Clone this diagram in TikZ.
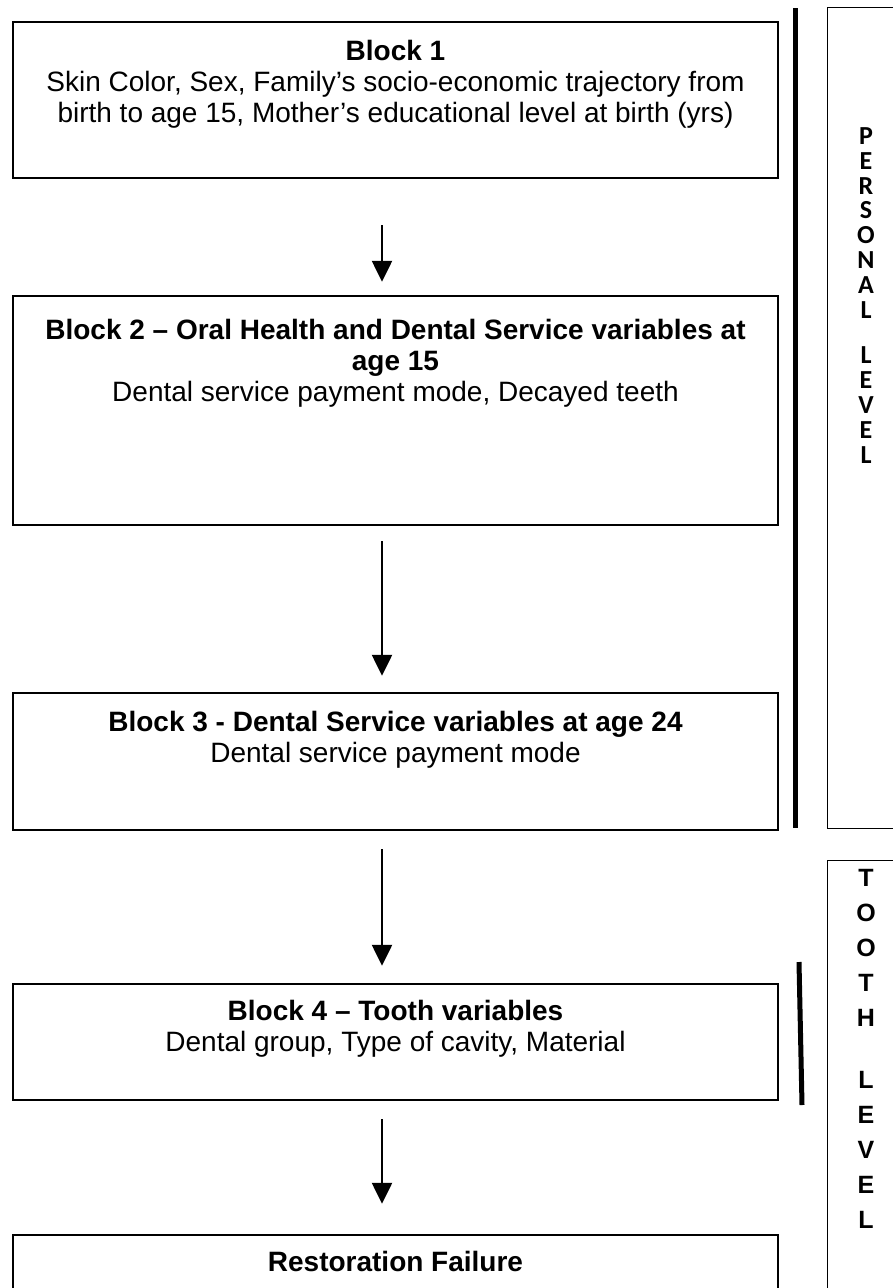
\documentclass[tikz,border=0pt]{standalone}
\usepackage{fontspec}
\setmainfont{Liberation Sans}
\newfontfamily\calib{Carlito}
\usetikzlibrary{arrows.meta}
\begin{document}
\begin{tikzpicture}[x=1pt,y=-1pt,
  blockbox/.style={draw, line width=2.5pt, inner sep=0pt, minimum width=765pt},
  blocktext/.style={anchor=north, align=center, inner sep=0pt, font=\fontsize{28}{31}\selectfont},
  arr/.style={line width=2.6pt, -{Triangle[length=21pt,width=20pt]}},
  levelbox/.style={draw, line width=1.3pt, inner sep=0pt, anchor=north west},
  leveltext/.style={anchor=north, align=center, inner sep=0pt},
  bar/.style={line width=5pt}]
\useasboundingbox (0,0) rectangle (893,1288);
\clip (0,0) rectangle (893,1288);

% blocks
\node[blockbox, minimum height=156pt] (b1) at (395.5,100) {};
\node[blockbox, minimum height=229pt] (b2) at (395.5,410.5) {};
\node[blockbox, minimum height=137pt] (b3) at (395.5,761.5) {};
\node[blockbox, minimum height=116pt] (b4) at (395.5,1042) {};
\node[blockbox, minimum height=70pt] (b5) at (395.5,1270) {};

\node[blocktext] (t1) at ([yshift=-19pt]b1.north) {\textbf{Block 1}\\Skin Color, Sex, Family’s socio-economic trajectory from\\birth to age 15, Mother’s educational level at birth (yrs)};
\node[blocktext] (t2) at ([yshift=-24.6pt]b2.north) {\textbf{Block 2 – Oral Health and Dental Service variables at}\\\textbf{age 15}\\Dental service payment mode, Decayed teeth};
\node[blocktext] (t3) at ([yshift=-19pt]b3.north) {\textbf{Block 3 - Dental Service variables at age 24}\\Dental service payment mode};
\node[blocktext] (t4) at ([yshift=-17pt]b4.north) {\textbf{Block 4 – Tooth variables}\\Dental group, Type of cavity, Material};
\node[blocktext] (t5) at ([yshift=-17pt]b5.north) {\textbf{Restoration Failure}};

% arrows
\draw[arr] ([xshift=-13.5pt,yshift=-46pt]b1.south) -- ([xshift=-13.5pt,yshift=13pt]b2.north);
\draw[arr] ([xshift=-13.5pt,yshift=-15pt]b2.south) -- ([xshift=-13.5pt,yshift=16pt]b3.north);
\draw[arr] ([xshift=-13.5pt,yshift=-18pt]b3.south) -- ([xshift=-13.5pt,yshift=17pt]b4.north);
\draw[arr] ([xshift=-13.5pt,yshift=-18pt]b4.south) -- ([xshift=-13.5pt,yshift=30pt]b5.north);

% level boxes
\node[levelbox, minimum width=80pt, minimum height=821pt] (pbox) at (827,7) {};
\node[leveltext, font=\calib\bfseries\fontsize{26}{24.8}\selectfont] (ptxt) at (866,127.5)
  {P\\E\\R\\S\\O\\N\\A\\L\\[21pt]L\\E\\V\\E\\L};
\node[levelbox, minimum width=80pt, minimum height=450pt] (tbox) at (827,860) {};
\node[leveltext, font=\bfseries\fontsize{25}{35}\selectfont] (ttxt) at (866,869)
  {T\\O\\O\\T\\H\\[27pt]L\\E\\V\\E\\L};

% thick bars
\coordinate (p1) at (795,8);
\coordinate (p2) at (795,828);
\coordinate (q1) at (799,962);
\coordinate (q2) at (802,1105);
\draw[bar] (p1) -- (p2);
\draw[bar] (q1) -- (q2);
\end{tikzpicture}
\end{document}
